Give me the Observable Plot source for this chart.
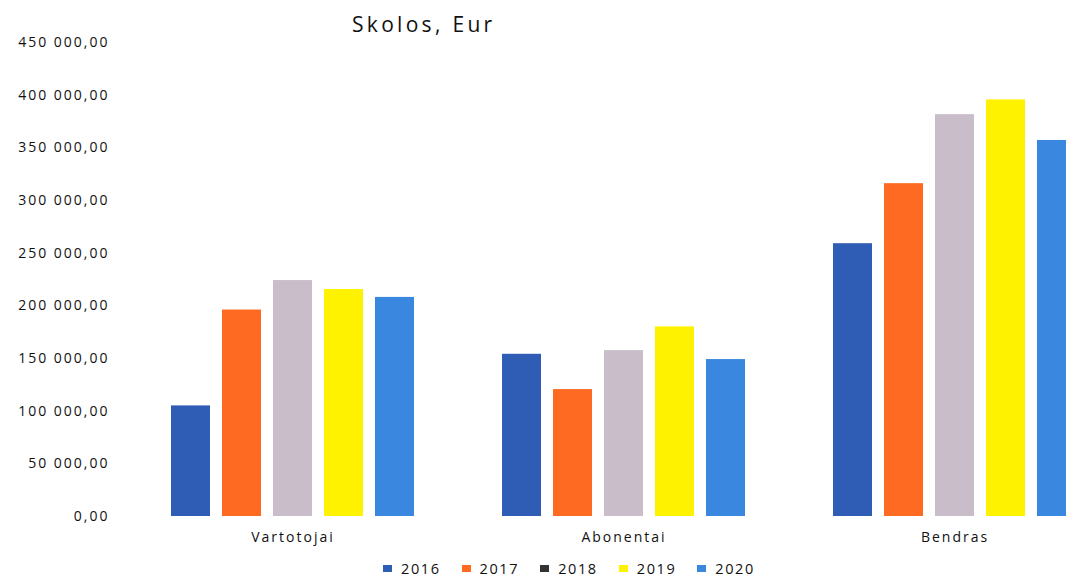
<!DOCTYPE html>
<html>
<head>
<meta charset="utf-8">
<script src="https://cdn.jsdelivr.net/npm/d3@7"></script>
<script src="https://cdn.jsdelivr.net/npm/@observablehq/plot@0.6"></script>
<style>
  html, body { margin: 0; padding: 0; background: #fff; overflow: hidden; width: 1066px; height: 578px; }
  #wrap { position: relative; width: 1066px; height: 578px; overflow: hidden; }
  #title { position: absolute; left: 352px; top: 10px; font: 21px/28px "Open Sans", sans-serif; letter-spacing: 3.3px; color: #111; }
  #chart { position: absolute; left: 0; top: 0; }
  #chart svg { max-width: none; }
  #legend { position: absolute; left: 383px; top: 561px; display: flex; align-items: center; font: 14.5px/15px "Open Sans", sans-serif; letter-spacing: 1.6px; color: #111; }
  #legend .item { display: flex; align-items: center; margin-right: 21px; }
  #legend .sw { width: 9px; height: 7px; margin-right: 9px; display: inline-block; }
</style>
</head>
<body>
<div id="wrap">
  <div id="chart"></div>
  <div id="title">Skolos, Eur</div>
  <div id="legend"></div>
</div>
<script>
const categories = ["Vartotojai", "Abonentai", "Bendras"];
const years = ["2016", "2017", "2018", "2019", "2020"];
const vartotojai = [105000, 196000, 224000, 215500, 208000];
const abonentai = [154000, 120500, 157500, 180000, 149000];
const bendras = [259000, 316000, 381500, 395500, 357000];
const barColors = ["#2f5db5", "#fe6a22", "#cabdca", "#fff200", "#3a87e0"];
const legendColors = ["#2f5db5", "#fe6a22", "#333333", "#fff200", "#3a87e0"];
const yTicks = [0, 50000, 100000, 150000, 200000, 250000, 300000, 350000, 400000, 450000];

const series = [vartotojai, abonentai, bendras];
const data = [];
categories.forEach((c, i) => years.forEach((y, j) => data.push({category: c, year: y, value: series[i][j]})));

const fmt = d3.formatLocale({decimal: ",", thousands: "\u00a0", grouping: [3], currency: ["", ""]}).format(",.2f");

const chart = Plot.plot({
  width: 1120,
  height: 578,
  marginLeft: 126,
  marginRight: 0,
  marginTop: 42,
  marginBottom: 62,
  style: {fontFamily: "'Open Sans', sans-serif", fontSize: "14px", letterSpacing: "2px", color: "#111", background: "transparent", maxWidth: "none"},
  fx: {domain: categories, padding: 0, label: null, axis: "bottom", tickSize: 0, tickPadding: 16},
  x: {domain: years, paddingInner: 0.235, paddingOuter: 0.86, axis: null},
  y: {domain: [0, 450000], ticks: yTicks, tickFormat: fmt, tickSize: 0, tickPadding: 18, label: null},
  color: {domain: years, range: barColors},
  marks: [
    Plot.barY(data, {fx: "category", x: "year", y: "value", fill: "year"})
  ]
});
document.getElementById("chart").appendChild(chart);

const legend = document.getElementById("legend");
years.forEach((y, i) => {
  const item = document.createElement("div");
  item.className = "item";
  const sw = document.createElement("span");
  sw.className = "sw";
  sw.style.background = legendColors[i];
  item.appendChild(sw);
  item.appendChild(document.createTextNode(y));
  legend.appendChild(item);
});
</script>
</body>
</html>
